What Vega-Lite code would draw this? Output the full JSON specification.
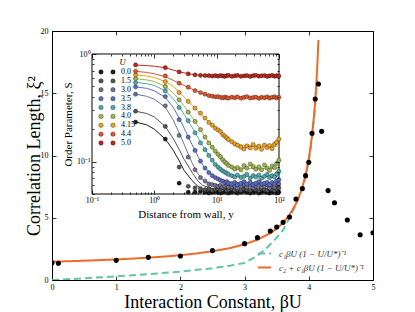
{
"$schema": "https://vega.github.io/schema/vega-lite/v6.json",
"width": 321, "height": 249,
"autosize": {"type": "none"},
"padding": {"left": 52, "top": 31, "right": 42, "bottom": 32},
"background": "white",
"config": {
  "font": "Liberation Serif",
  "view": {"stroke": "#000", "strokeWidth": 1},
  "axis": {"labelColor": "#000", "titleColor": "#000", "tickColor": "#000", "titleFontWeight": "normal", "labelFont": "Liberation Serif", "titleFont": "Liberation Serif", "grid": false, "labelFlush": false, "labelOverlap": false, "tickWidth": 0.8}
},
"resolve": {"scale": {"x": "independent", "y": "independent", "color": "independent", "strokeDash": "independent", "stroke": "independent"}, "axis": {"x": "independent", "y": "independent"}, "legend": {"color": "independent"}},
"layer": [
{
  "layer": [
    {
      "data": {"values": [
        {"k":"c₁βU (1 − U/U*)⁻¹","b":0,"v":0},{"k":"c₁βU (1 − U/U*)⁻¹","b":0.5,"v":0.13},{"k":"c₁βU (1 − U/U*)⁻¹","b":1,"v":0.3},{"k":"c₁βU (1 − U/U*)⁻¹","b":1.5,"v":0.47},{"k":"c₁βU (1 − U/U*)⁻¹","b":2,"v":0.67},{"k":"c₁βU (1 − U/U*)⁻¹","b":2.5,"v":0.95},{"k":"c₁βU (1 − U/U*)⁻¹","b":2.75,"v":1.13},{"k":"c₁βU (1 − U/U*)⁻¹","b":3,"v":1.37},{"k":"c₁βU (1 − U/U*)⁻¹","b":3.2,"v":1.95},{"k":"c₁βU (1 − U/U*)⁻¹","b":3.34,"v":2.54},{"k":"c₁βU (1 − U/U*)⁻¹","b":3.5,"v":3.4},{"k":"c₁βU (1 − U/U*)⁻¹","b":3.6,"v":4.0},{"k":"c₁βU (1 − U/U*)⁻¹","b":3.7,"v":5.0},{"k":"c₁βU (1 − U/U*)⁻¹","b":3.8,"v":6.05},{"k":"c₁βU (1 − U/U*)⁻¹","b":3.9,"v":7.35},{"k":"c₁βU (1 − U/U*)⁻¹","b":3.95,"v":8.3},{"k":"c₁βU (1 − U/U*)⁻¹","b":4.0,"v":9.55},{"k":"c₁βU (1 − U/U*)⁻¹","b":4.05,"v":11.4},{"k":"c₁βU (1 − U/U*)⁻¹","b":4.1,"v":14.0},{"k":"c₁βU (1 − U/U*)⁻¹","b":4.13,"v":16.1},
        {"k":"c₂ + c₁βU (1 − U/U*)⁻¹","b":0,"v":1.47},{"k":"c₂ + c₁βU (1 − U/U*)⁻¹","b":0.25,"v":1.507},{"k":"c₂ + c₁βU (1 − U/U*)⁻¹","b":0.5,"v":1.549},{"k":"c₂ + c₁βU (1 − U/U*)⁻¹","b":0.75,"v":1.597},{"k":"c₂ + c₁βU (1 − U/U*)⁻¹","b":1,"v":1.653},{"k":"c₂ + c₁βU (1 − U/U*)⁻¹","b":1.25,"v":1.717},{"k":"c₂ + c₁βU (1 − U/U*)⁻¹","b":1.5,"v":1.793},{"k":"c₂ + c₁βU (1 − U/U*)⁻¹","b":1.75,"v":1.884},{"k":"c₂ + c₁βU (1 − U/U*)⁻¹","b":2,"v":1.995},{"k":"c₂ + c₁βU (1 − U/U*)⁻¹","b":2.25,"v":2.133},{"k":"c₂ + c₁βU (1 − U/U*)⁻¹","b":2.5,"v":2.309},{"k":"c₂ + c₁βU (1 − U/U*)⁻¹","b":2.75,"v":2.542},{"k":"c₂ + c₁βU (1 − U/U*)⁻¹","b":3,"v":2.867},{"k":"c₂ + c₁βU (1 − U/U*)⁻¹","b":3.2,"v":3.233},{"k":"c₂ + c₁βU (1 − U/U*)⁻¹","b":3.4,"v":3.764},{"k":"c₂ + c₁βU (1 − U/U*)⁻¹","b":3.5,"v":4.132},{"k":"c₂ + c₁βU (1 − U/U*)⁻¹","b":3.6,"v":4.604},{"k":"c₂ + c₁βU (1 − U/U*)⁻¹","b":3.7,"v":5.237},{"k":"c₂ + c₁βU (1 − U/U*)⁻¹","b":3.8,"v":6.128},{"k":"c₂ + c₁βU (1 − U/U*)⁻¹","b":3.85,"v":6.723},{"k":"c₂ + c₁βU (1 − U/U*)⁻¹","b":3.9,"v":7.476},{"k":"c₂ + c₁βU (1 − U/U*)⁻¹","b":3.95,"v":8.443},{"k":"c₂ + c₁βU (1 − U/U*)⁻¹","b":4.0,"v":9.754},{"k":"c₂ + c₁βU (1 − U/U*)⁻¹","b":4.03,"v":10.78},{"k":"c₂ + c₁βU (1 − U/U*)⁻¹","b":4.06,"v":12.07},{"k":"c₂ + c₁βU (1 − U/U*)⁻¹","b":4.08,"v":13.14},{"k":"c₂ + c₁βU (1 − U/U*)⁻¹","b":4.1,"v":14.43},{"k":"c₂ + c₁βU (1 − U/U*)⁻¹","b":4.12,"v":16.02},{"k":"c₂ + c₁βU (1 − U/U*)⁻¹","b":4.135,"v":17.49},{"k":"c₂ + c₁βU (1 − U/U*)⁻¹","b":4.15,"v":19.28}
      ]},
      "mark": {"type": "line", "strokeWidth": 2, "clip": true},
      "encoding": {
        "x": {"field": "b", "type": "quantitative", "scale": {"domain": [0, 5], "nice": false, "zero": false},
              "axis": {"orient": "bottom", "values": [0,1,2,3,4,5], "format": "d", "title": "Interaction Constant, βU", "titleFontSize": 18, "titlePadding": 2, "labelFontSize": 8, "labelPadding": 7, "tickSize": -4, "domain": false}},
        "y": {"field": "v", "type": "quantitative", "scale": {"domain": [0, 20], "nice": false},
              "axis": {"orient": "left", "values": [0,5,10,15,20], "format": "d", "title": "Correlation Length, ξ²", "titleFontSize": 18, "titlePadding": -3, "labelFontSize": 8, "labelPadding": 8, "tickSize": -4, "domain": false}},
        "color": {"field": "k", "type": "nominal", "scale": {"domain": ["c₁βU (1 − U/U*)⁻¹", "c₂ + c₁βU (1 − U/U*)⁻¹"], "range": ["#66c2a5", "#ee6a28"]},
                  "legend": {"title": null, "orient": "none", "legendX": 205, "legendY": 215, "symbolType": "stroke", "symbolSize": 169, "symbolStrokeWidth": 2, "labelFontSize": 9, "labelFontStyle": "italic", "labelColor": "#333", "labelOffset": 7, "rowPadding": 1}},
        "strokeDash": {"field": "k", "type": "nominal", "scale": {"domain": ["c₁βU (1 − U/U*)⁻¹", "c₂ + c₁βU (1 − U/U*)⁻¹"], "range": [[7, 4], [1, 0]]},
                  "legend": {"title": null, "orient": "none", "legendX": 205, "legendY": 215, "symbolType": "stroke", "symbolSize": 169, "symbolStrokeWidth": 2, "labelFontSize": 9, "labelFontStyle": "italic", "labelColor": "#333", "labelOffset": 7, "rowPadding": 1}}
      }
    },
    {
      "data": {"values": [
        {"b":0,"v":1.39},{"b":0.1,"v":1.34},{"b":1,"v":1.58},{"b":1.5,"v":1.82},{"b":2,"v":1.93},{"b":2.5,"v":2.36},{"b":3,"v":2.92},{"b":3.2,"v":3.4},{"b":3.4,"v":3.94},{"b":3.5,"v":4.26},{"b":3.6,"v":4.63},{"b":3.7,"v":5.06},{"b":3.8,"v":6.51},{"b":3.9,"v":7.34},{"b":3.95,"v":8.38},{"b":4.0,"v":9.45},{"b":4.05,"v":11.78},{"b":4.1,"v":14.54},{"b":4.15,"v":15.74},{"b":4.2,"v":11.94},{"b":4.3,"v":7.18},{"b":4.4,"v":6.21},{"b":4.6,"v":4.82},{"b":4.8,"v":3.64},{"b":5.0,"v":3.8}
      ]},
      "mark": {"type": "circle", "size": 26, "color": "#000", "opacity": 1, "clip": true},
      "encoding": {
        "x": {"field": "b", "type": "quantitative", "scale": {"domain": [0, 5], "nice": false, "zero": false}},
        "y": {"field": "v", "type": "quantitative", "scale": {"domain": [0, 20], "nice": false}}
      }
    }
  ]
},
{
  "layer": [
    {
      "data": {"values": [{}]},
      "mark": {"type": "rect", "fill": "white", "stroke": "#000", "strokeWidth": 1},
      "encoding": {
        "x": {"datum": 0.1, "type": "quantitative", "scale": {"type": "log", "domain": [0.1, 100], "range": [40, 227], "nice": false},
              "axis": {"orient": "bottom", "offset": -86, "zindex": 1, "values": [0.1,0.2,0.3,0.4,0.5,0.6,0.7,0.8,0.9,1,2,3,4,5,6,7,8,9,10,20,30,40,50,60,70,80,90,100],
                       "labelExpr": "datum.value==0.1?'10⁻¹':datum.value==1?'10⁰':datum.value==10?'10¹':datum.value==100?'10²':''",
                       "tickSize": {"condition": {"test": "datum.value==0.1||datum.value==1||datum.value==10||datum.value==100", "value": -4}, "value": -2},
                       "title": "Distance from wall, y", "titleFontSize": 11, "titlePadding": 2, "labelFontSize": 8, "labelPadding": 6, "domain": false}},
        "x2": {"datum": 100},
        "y": {"datum": 0.05, "type": "quantitative", "scale": {"type": "log", "domain": [0.05, 1], "range": [163, 23], "nice": false},
              "axis": {"orient": "left", "offset": -40, "zindex": 1, "values": [0.05,0.06,0.07,0.08,0.09,0.1,0.2,0.3,0.4,0.5,0.6,0.7,0.8,0.9,1],
                       "labelExpr": "datum.value==0.1?'10⁻¹':datum.value==1?'10⁰':''",
                       "tickSize": {"condition": {"test": "datum.value==0.1||datum.value==1", "value": -4}, "value": -2},
                       "title": "Order Parameter, S", "titleFontSize": 11, "titlePadding": 3, "labelFontSize": 8, "labelPadding": 6, "domain": false}},
        "y2": {"datum": 1}
      }
    },
    {
      "data": {"values": [
        {"c":"0.0","d":0.5,"s":0.233},{"c":"0.0","d":0.75,"s":0.22},{"c":"0.0","d":1,"s":0.2},{"c":"0.0","d":1.5,"s":0.162},{"c":"0.0","d":2,"s":0.128},{"c":"0.0","d":2.5,"s":0.102},{"c":"0.0","d":3,"s":0.083},{"c":"0.0","d":4,"s":0.067},{"c":"0.0","d":5,"s":0.059},{"c":"0.0","d":6,"s":0.055},{"c":"0.0","d":8,"s":0.053},{"c":"0.0","d":10,"s":0.052},{"c":"0.0","d":100,"s":0.052},
        {"c":"1.5","d":0.5,"s":0.294},{"c":"1.5","d":0.75,"s":0.28},{"c":"1.5","d":1,"s":0.26},{"c":"1.5","d":1.5,"s":0.212},{"c":"1.5","d":2,"s":0.165},{"c":"1.5","d":2.5,"s":0.13},{"c":"1.5","d":3,"s":0.105},{"c":"1.5","d":4,"s":0.08},{"c":"1.5","d":5,"s":0.066},{"c":"1.5","d":6,"s":0.06},{"c":"1.5","d":8,"s":0.057},{"c":"1.5","d":10,"s":0.055},{"c":"1.5","d":100,"s":0.055},
        {"c":"3.0","d":0.5,"s":0.423},{"c":"3.0","d":0.75,"s":0.405},{"c":"3.0","d":1,"s":0.38},{"c":"3.0","d":1.5,"s":0.32},{"c":"3.0","d":2,"s":0.245},{"c":"3.0","d":2.5,"s":0.185},{"c":"3.0","d":3,"s":0.145},{"c":"3.0","d":4,"s":0.098},{"c":"3.0","d":5,"s":0.077},{"c":"3.0","d":6,"s":0.068},{"c":"3.0","d":8,"s":0.062},{"c":"3.0","d":10,"s":0.06},{"c":"3.0","d":20,"s":0.059},{"c":"3.0","d":100,"s":0.059},
        {"c":"3.5","d":0.5,"s":0.495},{"c":"3.5","d":0.75,"s":0.48},{"c":"3.5","d":1,"s":0.455},{"c":"3.5","d":1.5,"s":0.395},{"c":"3.5","d":2,"s":0.32},{"c":"3.5","d":2.5,"s":0.255},{"c":"3.5","d":3,"s":0.205},{"c":"3.5","d":4,"s":0.145},{"c":"3.5","d":5,"s":0.112},{"c":"3.5","d":6,"s":0.093},{"c":"3.5","d":8,"s":0.077},{"c":"3.5","d":10,"s":0.07},{"c":"3.5","d":15,"s":0.065},{"c":"3.5","d":20,"s":0.064},{"c":"3.5","d":100,"s":0.063},
        {"c":"3.8","d":0.5,"s":0.545},{"c":"3.8","d":0.75,"s":0.53},{"c":"3.8","d":1,"s":0.51},{"c":"3.8","d":1.5,"s":0.455},{"c":"3.8","d":2,"s":0.385},{"c":"3.8","d":2.5,"s":0.325},{"c":"3.8","d":3,"s":0.275},{"c":"3.8","d":4,"s":0.21},{"c":"3.8","d":5,"s":0.168},{"c":"3.8","d":6,"s":0.14},{"c":"3.8","d":8,"s":0.108},{"c":"3.8","d":10,"s":0.092},{"c":"3.8","d":15,"s":0.077},{"c":"3.8","d":20,"s":0.074},{"c":"3.8","d":30,"s":0.073},{"c":"3.8","d":100,"s":0.073},
        {"c":"4.0","d":0.5,"s":0.59},{"c":"4.0","d":0.75,"s":0.575},{"c":"4.0","d":1,"s":0.555},{"c":"4.0","d":1.5,"s":0.5},{"c":"4.0","d":2,"s":0.435},{"c":"4.0","d":2.5,"s":0.38},{"c":"4.0","d":3,"s":0.33},{"c":"4.0","d":4,"s":0.26},{"c":"4.0","d":5,"s":0.215},{"c":"4.0","d":6,"s":0.183},{"c":"4.0","d":8,"s":0.142},{"c":"4.0","d":10,"s":0.12},{"c":"4.0","d":15,"s":0.096},{"c":"4.0","d":20,"s":0.088},{"c":"4.0","d":30,"s":0.086},{"c":"4.0","d":100,"s":0.086},
        {"c":"4.15","d":0.5,"s":0.64},{"c":"4.15","d":0.75,"s":0.625},{"c":"4.15","d":1,"s":0.605},{"c":"4.15","d":1.5,"s":0.555},{"c":"4.15","d":2,"s":0.5},{"c":"4.15","d":2.5,"s":0.445},{"c":"4.15","d":3,"s":0.4},{"c":"4.15","d":4,"s":0.335},{"c":"4.15","d":5,"s":0.295},{"c":"4.15","d":6,"s":0.265},{"c":"4.15","d":8,"s":0.225},{"c":"4.15","d":10,"s":0.2},{"c":"4.15","d":15,"s":0.163},{"c":"4.15","d":20,"s":0.147},{"c":"4.15","d":30,"s":0.14},{"c":"4.15","d":100,"s":0.139},
        {"c":"4.4","d":0.5,"s":0.69},{"c":"4.4","d":0.75,"s":0.675},{"c":"4.4","d":1,"s":0.655},{"c":"4.4","d":1.5,"s":0.615},{"c":"4.4","d":2,"s":0.57},{"c":"4.4","d":2.5,"s":0.535},{"c":"4.4","d":3,"s":0.51},{"c":"4.4","d":4,"s":0.472},{"c":"4.4","d":5,"s":0.447},{"c":"4.4","d":6,"s":0.43},{"c":"4.4","d":8,"s":0.41},{"c":"4.4","d":10,"s":0.401},{"c":"4.4","d":15,"s":0.396},{"c":"4.4","d":20,"s":0.395},{"c":"4.4","d":100,"s":0.394},
        {"c":"5.0","d":0.5,"s":0.79},{"c":"5.0","d":0.75,"s":0.78},{"c":"5.0","d":1,"s":0.77},{"c":"5.0","d":1.5,"s":0.745},{"c":"5.0","d":2,"s":0.71},{"c":"5.0","d":2.5,"s":0.685},{"c":"5.0","d":3,"s":0.668},{"c":"5.0","d":4,"s":0.648},{"c":"5.0","d":5,"s":0.637},{"c":"5.0","d":6,"s":0.632},{"c":"5.0","d":8,"s":0.628},{"c":"5.0","d":10,"s":0.627},{"c":"5.0","d":20,"s":0.626},{"c":"5.0","d":100,"s":0.626}
      ]},
      "mark": {"type": "line", "strokeWidth": 1},
      "encoding": {
        "x": {"field": "d", "type": "quantitative", "scale": {"type": "log", "domain": [0.1, 100], "range": [40, 227], "nice": false}},
        "y": {"field": "s", "type": "quantitative", "scale": {"type": "log", "domain": [0.05, 1], "range": [163, 23], "nice": false}},
        "stroke": {"field": "c", "type": "nominal", "legend": null, "scale": {"domain": ["0.0","1.5","3.0","3.5","3.8","4.0","4.15","4.4","5.0"], "range": ["#1c1c1c","#555555","#70709a","#5a6ec4","#4eabb0","#a0b64c","#eda21e","#e3552a","#bf261e"]}}
      }
    },
    {
      "data": {"values": [
        {"u":"0.0","d":0.5,"s":0.233},{"u":"0.0","d":1.5,"s":0.162},{"u":"0.0","d":2.5,"s":0.063},{"u":"0.0","d":3.5,"s":0.052},{"u":"0.0","d":4.5,"s":0.052},{"u":"0.0","d":5.5,"s":0.053},{"u":"0.0","d":6.5,"s":0.052},{"u":"0.0","d":7.5,"s":0.051},{"u":"0.0","d":8.5,"s":0.052},{"u":"0.0","d":9.5,"s":0.053},{"u":"0.0","d":10.5,"s":0.052},{"u":"0.0","d":11.5,"s":0.051},{"u":"0.0","d":12.5,"s":0.052},{"u":"0.0","d":13.5,"s":0.053},{"u":"0.0","d":14.5,"s":0.052},{"u":"0.0","d":15.5,"s":0.051},{"u":"0.0","d":17.5,"s":0.052},{"u":"0.0","d":19.5,"s":0.053},{"u":"0.0","d":21.5,"s":0.051},{"u":"0.0","d":24.5,"s":0.052},{"u":"0.0","d":27.5,"s":0.053},{"u":"0.0","d":30.5,"s":0.052},{"u":"0.0","d":34.5,"s":0.051},{"u":"0.0","d":38.5,"s":0.052},{"u":"0.0","d":42.5,"s":0.053},{"u":"0.0","d":47.5,"s":0.051},{"u":"0.0","d":52.5,"s":0.052},{"u":"0.0","d":58.5,"s":0.053},{"u":"0.0","d":64.5,"s":0.052},{"u":"0.0","d":70.5,"s":0.051},{"u":"0.0","d":77.5,"s":0.052},{"u":"0.0","d":84.5,"s":0.053},{"u":"0.0","d":91.5,"s":0.051},{"u":"0.0","d":99.5,"s":0.052},
        {"u":"1.5","d":0.5,"s":0.294},{"u":"1.5","d":1.5,"s":0.212},{"u":"1.5","d":2.5,"s":0.089},{"u":"1.5","d":3.5,"s":0.059},{"u":"1.5","d":4.5,"s":0.057},{"u":"1.5","d":5.5,"s":0.056},{"u":"1.5","d":6.5,"s":0.055},{"u":"1.5","d":7.5,"s":0.056},{"u":"1.5","d":8.5,"s":0.054},{"u":"1.5","d":9.5,"s":0.055},{"u":"1.5","d":10.5,"s":0.056},{"u":"1.5","d":11.5,"s":0.054},{"u":"1.5","d":12.5,"s":0.055},{"u":"1.5","d":13.5,"s":0.056},{"u":"1.5","d":14.5,"s":0.054},{"u":"1.5","d":15.5,"s":0.055},{"u":"1.5","d":17.5,"s":0.056},{"u":"1.5","d":19.5,"s":0.054},{"u":"1.5","d":21.5,"s":0.055},{"u":"1.5","d":24.5,"s":0.054},{"u":"1.5","d":27.5,"s":0.056},{"u":"1.5","d":30.5,"s":0.055},{"u":"1.5","d":34.5,"s":0.054},{"u":"1.5","d":38.5,"s":0.056},{"u":"1.5","d":42.5,"s":0.055},{"u":"1.5","d":47.5,"s":0.054},{"u":"1.5","d":52.5,"s":0.056},{"u":"1.5","d":58.5,"s":0.055},{"u":"1.5","d":64.5,"s":0.054},{"u":"1.5","d":70.5,"s":0.056},{"u":"1.5","d":77.5,"s":0.055},{"u":"1.5","d":84.5,"s":0.054},{"u":"1.5","d":91.5,"s":0.056},{"u":"1.5","d":99.5,"s":0.057},
        {"u":"3.0","d":0.5,"s":0.423},{"u":"3.0","d":1.5,"s":0.33},{"u":"3.0","d":2.5,"s":0.175},{"u":"3.0","d":3.5,"s":0.11},{"u":"3.0","d":4.5,"s":0.084},{"u":"3.0","d":5.5,"s":0.071},{"u":"3.0","d":6.5,"s":0.066},{"u":"3.0","d":7.5,"s":0.062},{"u":"3.0","d":8.5,"s":0.061},{"u":"3.0","d":9.5,"s":0.06},{"u":"3.0","d":10.5,"s":0.059},{"u":"3.0","d":11.5,"s":0.06},{"u":"3.0","d":12.5,"s":0.058},{"u":"3.0","d":13.5,"s":0.059},{"u":"3.0","d":14.5,"s":0.061},{"u":"3.0","d":15.5,"s":0.058},{"u":"3.0","d":17.5,"s":0.059},{"u":"3.0","d":19.5,"s":0.06},{"u":"3.0","d":21.5,"s":0.057},{"u":"3.0","d":24.5,"s":0.059},{"u":"3.0","d":27.5,"s":0.061},{"u":"3.0","d":30.5,"s":0.058},{"u":"3.0","d":34.5,"s":0.06},{"u":"3.0","d":38.5,"s":0.057},{"u":"3.0","d":42.5,"s":0.059},{"u":"3.0","d":47.5,"s":0.06},{"u":"3.0","d":52.5,"s":0.058},{"u":"3.0","d":58.5,"s":0.059},{"u":"3.0","d":64.5,"s":0.061},{"u":"3.0","d":70.5,"s":0.057},{"u":"3.0","d":77.5,"s":0.06},{"u":"3.0","d":84.5,"s":0.058},{"u":"3.0","d":91.5,"s":0.061},{"u":"3.0","d":99.5,"s":0.062},
        {"u":"3.5","d":0.5,"s":0.495},{"u":"3.5","d":1.5,"s":0.402},{"u":"3.5","d":2.5,"s":0.245},{"u":"3.5","d":3.5,"s":0.169},{"u":"3.5","d":4.5,"s":0.127},{"u":"3.5","d":5.5,"s":0.101},{"u":"3.5","d":6.5,"s":0.087},{"u":"3.5","d":7.5,"s":0.079},{"u":"3.5","d":8.5,"s":0.074},{"u":"3.5","d":9.5,"s":0.071},{"u":"3.5","d":10.5,"s":0.069},{"u":"3.5","d":11.5,"s":0.067},{"u":"3.5","d":12.5,"s":0.066},{"u":"3.5","d":13.5,"s":0.064},{"u":"3.5","d":14.5,"s":0.065},{"u":"3.5","d":15.5,"s":0.063},{"u":"3.5","d":17.5,"s":0.062},{"u":"3.5","d":19.5,"s":0.064},{"u":"3.5","d":21.5,"s":0.061},{"u":"3.5","d":24.5,"s":0.063},{"u":"3.5","d":27.5,"s":0.065},{"u":"3.5","d":30.5,"s":0.062},{"u":"3.5","d":34.5,"s":0.064},{"u":"3.5","d":38.5,"s":0.061},{"u":"3.5","d":42.5,"s":0.063},{"u":"3.5","d":47.5,"s":0.065},{"u":"3.5","d":52.5,"s":0.062},{"u":"3.5","d":58.5,"s":0.063},{"u":"3.5","d":64.5,"s":0.064},{"u":"3.5","d":70.5,"s":0.061},{"u":"3.5","d":77.5,"s":0.064},{"u":"3.5","d":84.5,"s":0.062},{"u":"3.5","d":91.5,"s":0.066},{"u":"3.5","d":99.5,"s":0.068},
        {"u":"3.8","d":0.5,"s":0.543},{"u":"3.8","d":1.5,"s":0.454},{"u":"3.8","d":2.5,"s":0.318},{"u":"3.8","d":3.5,"s":0.24},{"u":"3.8","d":4.5,"s":0.185},{"u":"3.8","d":5.5,"s":0.149},{"u":"3.8","d":6.5,"s":0.129},{"u":"3.8","d":7.5,"s":0.114},{"u":"3.8","d":8.5,"s":0.103},{"u":"3.8","d":9.5,"s":0.094},{"u":"3.8","d":10.5,"s":0.089},{"u":"3.8","d":11.5,"s":0.085},{"u":"3.8","d":12.5,"s":0.082},{"u":"3.8","d":13.5,"s":0.08},{"u":"3.8","d":14.5,"s":0.078},{"u":"3.8","d":15.5,"s":0.076},{"u":"3.8","d":17.5,"s":0.074},{"u":"3.8","d":19.5,"s":0.072},{"u":"3.8","d":21.5,"s":0.075},{"u":"3.8","d":24.5,"s":0.071},{"u":"3.8","d":27.5,"s":0.073},{"u":"3.8","d":30.5,"s":0.076},{"u":"3.8","d":34.5,"s":0.07},{"u":"3.8","d":38.5,"s":0.074},{"u":"3.8","d":42.5,"s":0.072},{"u":"3.8","d":47.5,"s":0.075},{"u":"3.8","d":52.5,"s":0.07},{"u":"3.8","d":58.5,"s":0.073},{"u":"3.8","d":64.5,"s":0.076},{"u":"3.8","d":70.5,"s":0.071},{"u":"3.8","d":77.5,"s":0.074},{"u":"3.8","d":84.5,"s":0.072},{"u":"3.8","d":91.5,"s":0.077},{"u":"3.8","d":99.5,"s":0.081},
        {"u":"4.0","d":0.5,"s":0.591},{"u":"4.0","d":1.5,"s":0.499},{"u":"4.0","d":2.5,"s":0.375},{"u":"4.0","d":3.5,"s":0.288},{"u":"4.0","d":4.5,"s":0.236},{"u":"4.0","d":5.5,"s":0.198},{"u":"4.0","d":6.5,"s":0.169},{"u":"4.0","d":7.5,"s":0.149},{"u":"4.0","d":8.5,"s":0.136},{"u":"4.0","d":9.5,"s":0.125},{"u":"4.0","d":10.5,"s":0.117},{"u":"4.0","d":11.5,"s":0.111},{"u":"4.0","d":12.5,"s":0.104},{"u":"4.0","d":13.5,"s":0.099},{"u":"4.0","d":14.5,"s":0.096},{"u":"4.0","d":15.5,"s":0.092},{"u":"4.0","d":17.5,"s":0.089},{"u":"4.0","d":19.5,"s":0.085},{"u":"4.0","d":21.5,"s":0.088},{"u":"4.0","d":24.5,"s":0.084},{"u":"4.0","d":27.5,"s":0.092},{"u":"4.0","d":30.5,"s":0.087},{"u":"4.0","d":34.5,"s":0.095},{"u":"4.0","d":38.5,"s":0.09},{"u":"4.0","d":42.5,"s":0.085},{"u":"4.0","d":47.5,"s":0.089},{"u":"4.0","d":52.5,"s":0.084},{"u":"4.0","d":58.5,"s":0.093},{"u":"4.0","d":64.5,"s":0.087},{"u":"4.0","d":70.5,"s":0.083},{"u":"4.0","d":77.5,"s":0.091},{"u":"4.0","d":84.5,"s":0.088},{"u":"4.0","d":91.5,"s":0.096},{"u":"4.0","d":99.5,"s":0.103},
        {"u":"4.15","d":0.5,"s":0.639},{"u":"4.15","d":1.5,"s":0.554},{"u":"4.15","d":2.5,"s":0.438},{"u":"4.15","d":3.5,"s":0.362},{"u":"4.15","d":4.5,"s":0.314},{"u":"4.15","d":5.5,"s":0.282},{"u":"4.15","d":6.5,"s":0.254},{"u":"4.15","d":7.5,"s":0.231},{"u":"4.15","d":8.5,"s":0.218},{"u":"4.15","d":9.5,"s":0.205},{"u":"4.15","d":10.5,"s":0.197},{"u":"4.15","d":11.5,"s":0.19},{"u":"4.15","d":12.5,"s":0.178},{"u":"4.15","d":13.5,"s":0.172},{"u":"4.15","d":14.5,"s":0.166},{"u":"4.15","d":15.5,"s":0.16},{"u":"4.15","d":17.5,"s":0.153},{"u":"4.15","d":19.5,"s":0.146},{"u":"4.15","d":21.5,"s":0.142},{"u":"4.15","d":24.5,"s":0.136},{"u":"4.15","d":27.5,"s":0.131},{"u":"4.15","d":30.5,"s":0.14},{"u":"4.15","d":34.5,"s":0.134},{"u":"4.15","d":38.5,"s":0.144},{"u":"4.15","d":42.5,"s":0.133},{"u":"4.15","d":47.5,"s":0.139},{"u":"4.15","d":52.5,"s":0.13},{"u":"4.15","d":58.5,"s":0.142},{"u":"4.15","d":64.5,"s":0.135},{"u":"4.15","d":70.5,"s":0.141},{"u":"4.15","d":77.5,"s":0.132},{"u":"4.15","d":84.5,"s":0.145},{"u":"4.15","d":91.5,"s":0.151},{"u":"4.15","d":99.5,"s":0.162},
        {"u":"4.4","d":0.5,"s":0.691},{"u":"4.4","d":1.5,"s":0.626},{"u":"4.4","d":2.5,"s":0.535},{"u":"4.4","d":3.5,"s":0.491},{"u":"4.4","d":4.5,"s":0.457},{"u":"4.4","d":5.5,"s":0.438},{"u":"4.4","d":6.5,"s":0.423},{"u":"4.4","d":7.5,"s":0.411},{"u":"4.4","d":8.5,"s":0.405},{"u":"4.4","d":9.5,"s":0.4},{"u":"4.4","d":10.5,"s":0.402},{"u":"4.4","d":11.5,"s":0.396},{"u":"4.4","d":12.5,"s":0.391},{"u":"4.4","d":13.5,"s":0.398},{"u":"4.4","d":14.5,"s":0.393},{"u":"4.4","d":15.5,"s":0.389},{"u":"4.4","d":17.5,"s":0.397},{"u":"4.4","d":19.5,"s":0.392},{"u":"4.4","d":21.5,"s":0.399},{"u":"4.4","d":24.5,"s":0.388},{"u":"4.4","d":27.5,"s":0.395},{"u":"4.4","d":30.5,"s":0.401},{"u":"4.4","d":34.5,"s":0.39},{"u":"4.4","d":38.5,"s":0.394},{"u":"4.4","d":42.5,"s":0.398},{"u":"4.4","d":47.5,"s":0.387},{"u":"4.4","d":52.5,"s":0.396},{"u":"4.4","d":58.5,"s":0.392},{"u":"4.4","d":64.5,"s":0.4},{"u":"4.4","d":70.5,"s":0.389},{"u":"4.4","d":77.5,"s":0.395},{"u":"4.4","d":84.5,"s":0.399},{"u":"4.4","d":91.5,"s":0.391},{"u":"4.4","d":99.5,"s":0.396},
        {"u":"5.0","d":0.5,"s":0.791},{"u":"5.0","d":1.5,"s":0.747},{"u":"5.0","d":2.5,"s":0.681},{"u":"5.0","d":3.5,"s":0.653},{"u":"5.0","d":4.5,"s":0.639},{"u":"5.0","d":5.5,"s":0.633},{"u":"5.0","d":6.5,"s":0.63},{"u":"5.0","d":7.5,"s":0.628},{"u":"5.0","d":8.5,"s":0.624},{"u":"5.0","d":9.5,"s":0.629},{"u":"5.0","d":10.5,"s":0.622},{"u":"5.0","d":11.5,"s":0.631},{"u":"5.0","d":12.5,"s":0.625},{"u":"5.0","d":13.5,"s":0.619},{"u":"5.0","d":14.5,"s":0.628},{"u":"5.0","d":15.5,"s":0.633},{"u":"5.0","d":17.5,"s":0.621},{"u":"5.0","d":19.5,"s":0.627},{"u":"5.0","d":21.5,"s":0.632},{"u":"5.0","d":24.5,"s":0.62},{"u":"5.0","d":27.5,"s":0.626},{"u":"5.0","d":30.5,"s":0.63},{"u":"5.0","d":34.5,"s":0.618},{"u":"5.0","d":38.5,"s":0.628},{"u":"5.0","d":42.5,"s":0.634},{"u":"5.0","d":47.5,"s":0.622},{"u":"5.0","d":52.5,"s":0.627},{"u":"5.0","d":58.5,"s":0.631},{"u":"5.0","d":64.5,"s":0.619},{"u":"5.0","d":70.5,"s":0.626},{"u":"5.0","d":77.5,"s":0.633},{"u":"5.0","d":84.5,"s":0.621},{"u":"5.0","d":91.5,"s":0.629},{"u":"5.0","d":99.5,"s":0.624}
      ]},
      "mark": {"type": "circle", "size": 18, "opacity": 1, "stroke": "#000", "strokeWidth": 0.6, "strokeOpacity": 0.55},
      "encoding": {
        "x": {"field": "d", "type": "quantitative", "scale": {"type": "log", "domain": [0.1, 100], "range": [40, 227], "nice": false}},
        "y": {"field": "s", "type": "quantitative", "scale": {"type": "log", "domain": [0.05, 1], "range": [163, 23], "nice": false}},
        "color": {"field": "u", "type": "nominal", "legend": null,
                  "scale": {"domain": ["0.0","1.5","3.0","3.5","3.8","4.0","4.15","4.4","5.0"], "range": ["#1c1c1c","#555555","#70709a","#5a6ec4","#4eabb0","#a0b64c","#eda21e","#e3552a","#bf261e"]}}
      }
    },
    {
      "data": {"values": [{}]},
      "mark": {"type": "text", "text": "U", "fontStyle": "italic", "fontSize": 8.5, "align": "center", "baseline": "middle", "color": "#000"},
      "encoding": {
        "x": {"datum": 0.308, "type": "quantitative", "scale": {"type": "log", "domain": [0.1, 100], "range": [40, 227], "nice": false}},
        "y": {"datum": 0.843, "type": "quantitative", "scale": {"type": "log", "domain": [0.05, 1], "range": [163, 23], "nice": false}}
      }
    }
  ]
},
{
  "data": {"values": [{"u":"0.0"},{"u":"1.5"},{"u":"3.0"},{"u":"3.5"},{"u":"3.8"},{"u":"4.0"},{"u":"4.15"},{"u":"4.4"},{"u":"5.0"}]},
  "layer": [
    {
      "mark": {"type": "circle", "size": 20, "opacity": 1, "stroke": "#000", "strokeWidth": 0.6, "strokeOpacity": 0.55},
      "encoding": {
        "x": {"datum": 0, "type": "quantitative", "scale": {"domain": [0, 1], "range": [49, 61]}, "axis": null},
        "y": {"field": "u", "type": "ordinal", "scale": {"type": "point", "domain": ["0.0","1.5","3.0","3.5","3.8","4.0","4.15","4.4","5.0"], "range": [41, 112], "padding": 0}, "axis": null},
        "color": {"field": "u", "type": "nominal", "legend": null, "scale": {"domain": ["0.0","1.5","3.0","3.5","3.8","4.0","4.15","4.4","5.0"], "range": ["#1c1c1c","#555555","#70709a","#5a6ec4","#4eabb0","#a0b64c","#eda21e","#e3552a","#bf261e"]}}
      }
    },
    {
      "mark": {"type": "circle", "size": 20, "opacity": 1, "stroke": "#000", "strokeWidth": 0.6, "strokeOpacity": 0.55},
      "encoding": {
        "x": {"datum": 1, "type": "quantitative"},
        "y": {"field": "u", "type": "ordinal"},
        "color": {"field": "u", "type": "nominal", "legend": null}
      }
    },
    {
      "mark": {"type": "text", "align": "left", "baseline": "middle", "fontSize": 8, "color": "#000"},
      "encoding": {
        "x": {"datum": 1.667, "type": "quantitative"},
        "y": {"field": "u", "type": "ordinal"},
        "text": {"field": "u"}
      }
    }
  ]
},
{
  "data": {"values": [{}]},
  "mark": {"type": "point", "opacity": 0},
  "encoding": {
    "x": {"datum": 1, "type": "quantitative", "scale": {"domain": [0, 5], "nice": false, "zero": false},
          "axis": {"orient": "top", "values": [0,1,2,3,4,5], "labels": false, "title": null, "tickSize": -4, "domain": false}},
    "y": {"datum": 1, "type": "quantitative", "scale": {"domain": [0, 20], "nice": false},
          "axis": {"orient": "right", "values": [0,5,10,15,20], "labels": false, "title": null, "tickSize": -4, "domain": false}}
  }
},
{
  "data": {"values": [{}]},
  "mark": {"type": "point", "opacity": 0},
  "encoding": {
    "x": {"datum": 1, "type": "quantitative", "scale": {"type": "log", "domain": [0.1, 100], "range": [40, 227], "nice": false},
          "axis": {"orient": "top", "offset": -23, "zindex": 1, "values": [0.1,0.2,0.3,0.4,0.5,0.6,0.7,0.8,0.9,1,2,3,4,5,6,7,8,9,10,20,30,40,50,60,70,80,90,100], "labels": false, "title": null,
                   "tickSize": {"condition": {"test": "datum.value==0.1||datum.value==1||datum.value==10||datum.value==100", "value": -4}, "value": -2}, "domain": false}},
    "y": {"datum": 0.5, "type": "quantitative", "scale": {"type": "log", "domain": [0.05, 1], "range": [163, 23], "nice": false},
          "axis": {"orient": "right", "offset": -94, "zindex": 1, "values": [0.05,0.06,0.07,0.08,0.09,0.1,0.2,0.3,0.4,0.5,0.6,0.7,0.8,0.9,1], "labels": false, "title": null,
                   "tickSize": {"condition": {"test": "datum.value==0.1||datum.value==1", "value": -4}, "value": -2}, "domain": false}}
  }
}
]
}
